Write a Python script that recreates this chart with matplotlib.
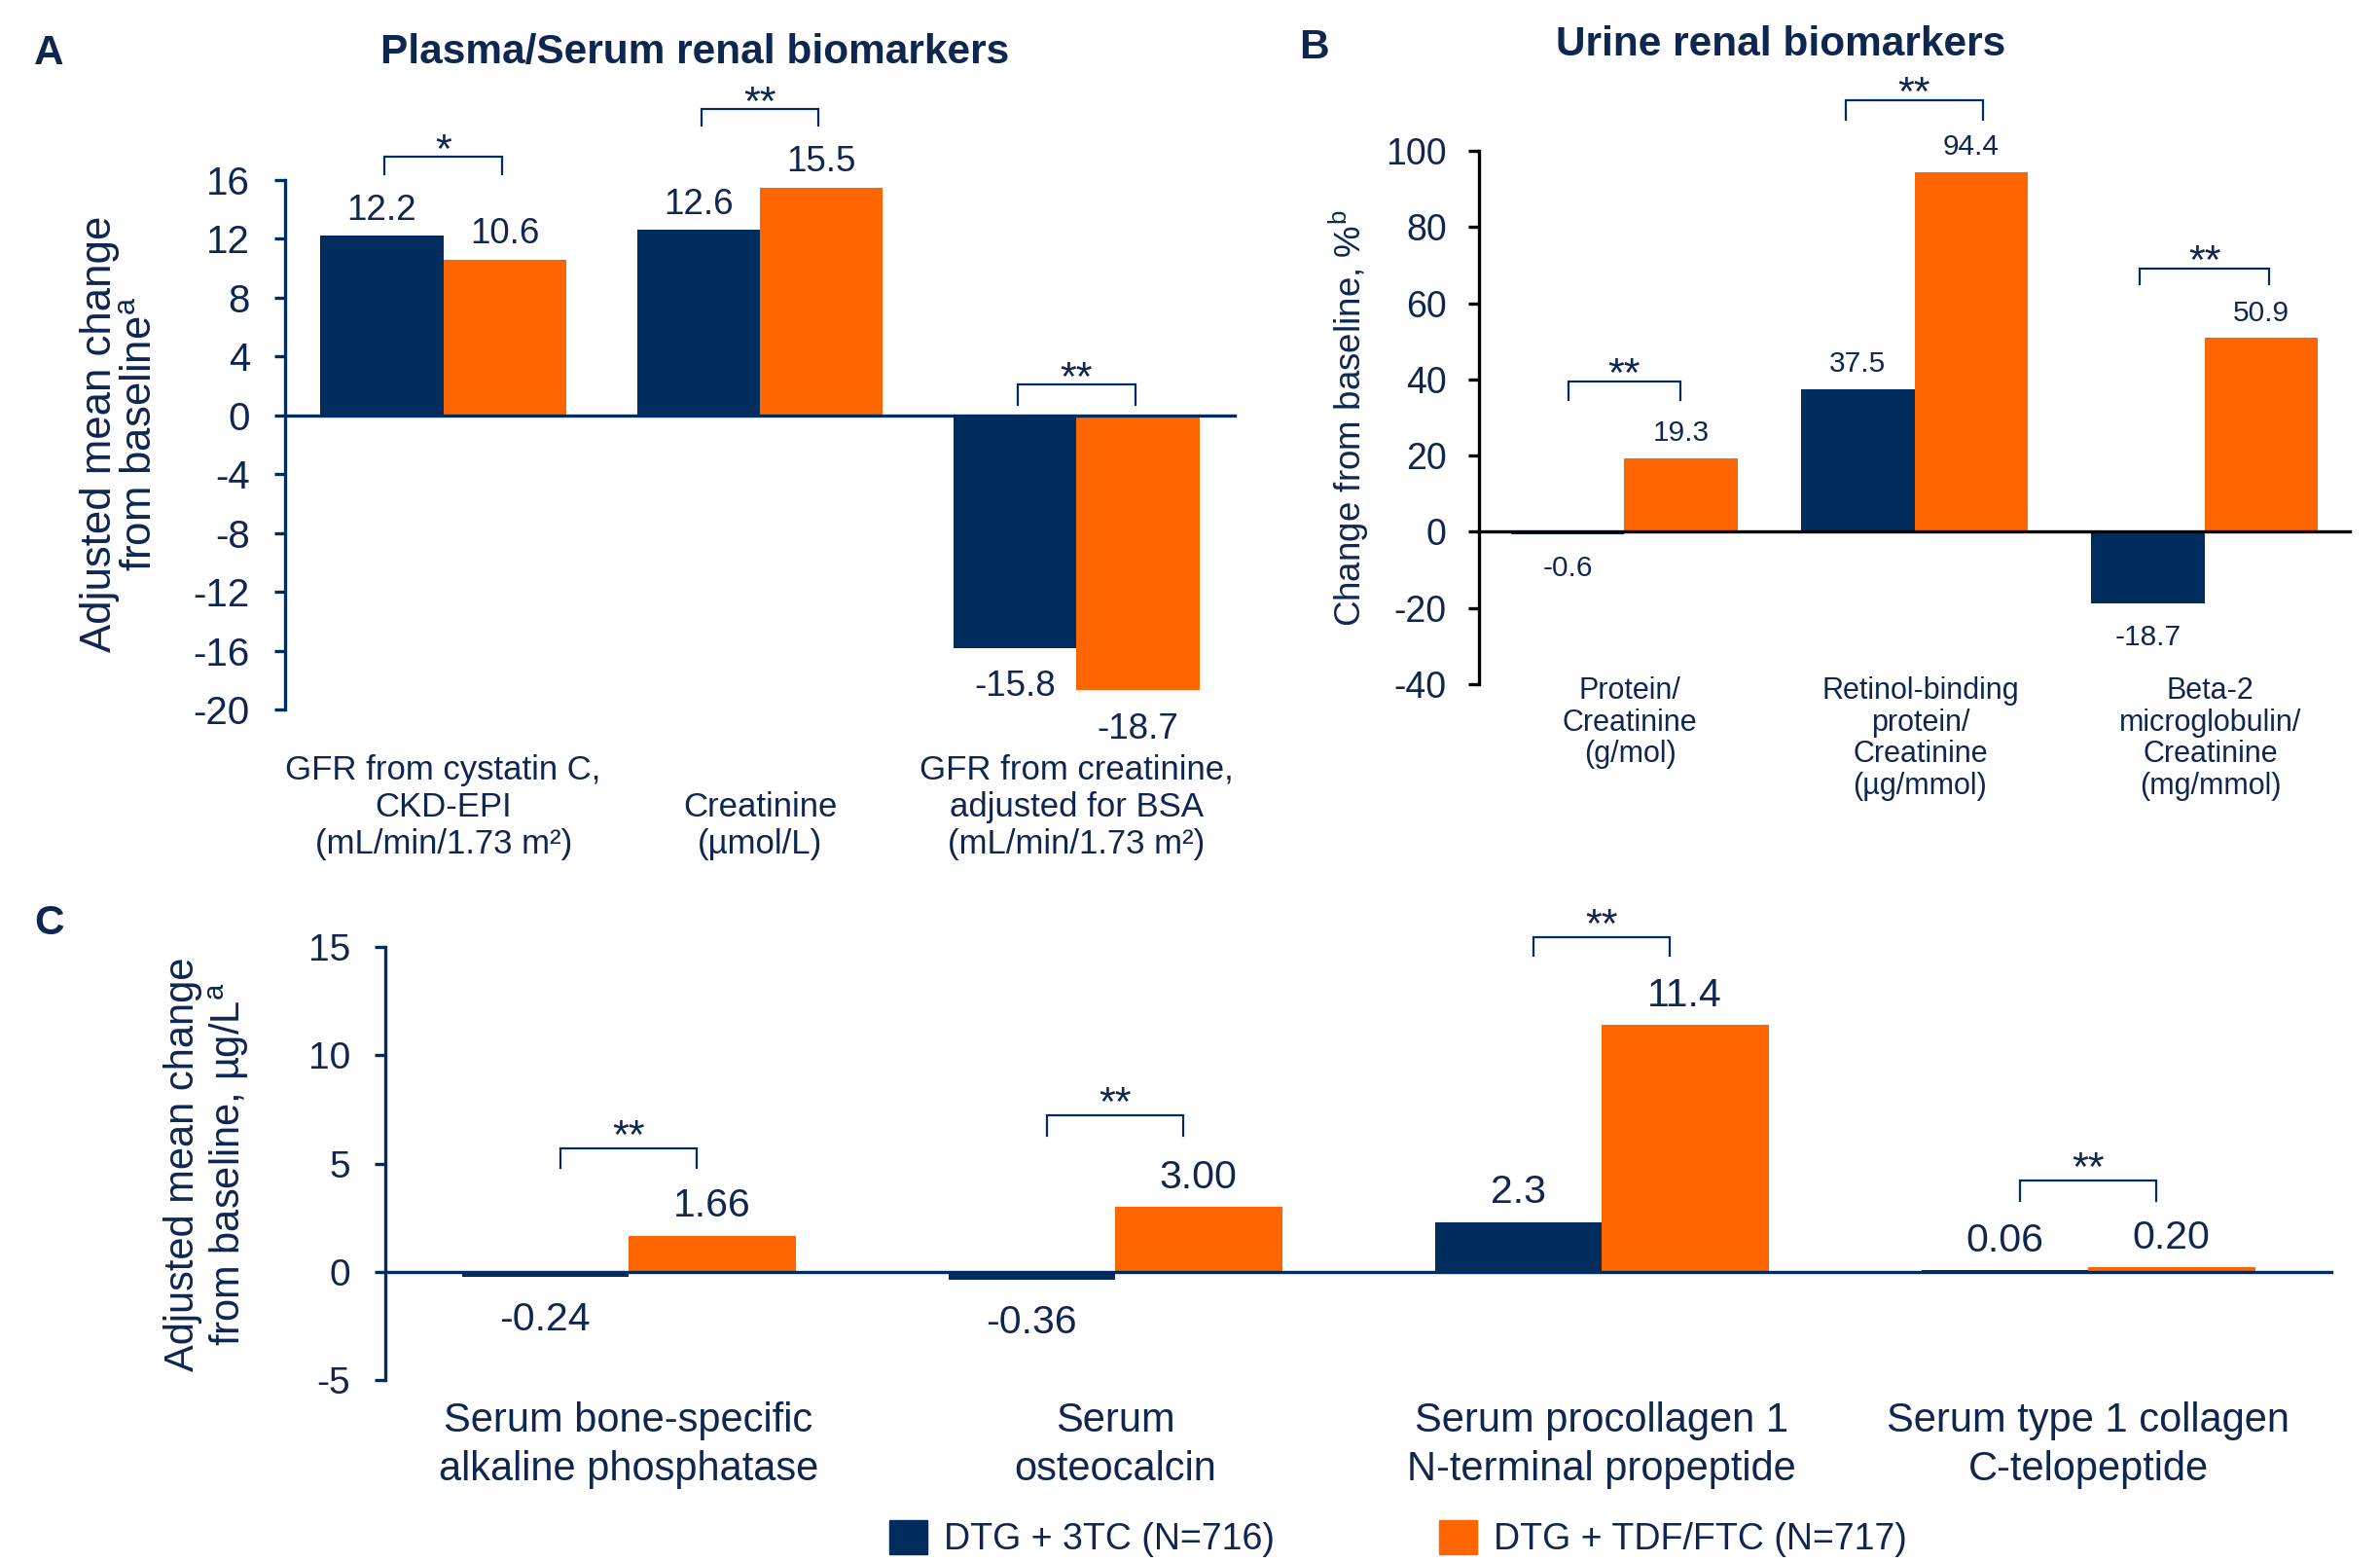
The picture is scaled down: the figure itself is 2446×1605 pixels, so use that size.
import numpy as np
import matplotlib
matplotlib.use("Agg")
import matplotlib.pyplot as plt
import matplotlib.transforms as mtransforms
from matplotlib.patches import Patch

plt.rcParams['font.family'] = ['Liberation Sans', 'DejaVu Sans']
plt.rcParams['mathtext.fontset'] = 'custom'
plt.rcParams['mathtext.rm'] = 'Liberation Sans'

# ── data ──────────────────────────────────────
series = ['DTG + 3TC (N=716)', 'DTG + TDF/FTC (N=717)']

a_cats = ['GFR from cystatin C,\nCKD-EPI\n(mL/min/1.73 m²)',
          'Creatinine\n(µmol/L)',
          'GFR from creatinine,\nadjusted for BSA\n(mL/min/1.73 m²)']
a_3tc = [12.2, 12.6, -15.8]
a_tdf = [10.6, 15.5, -18.7]
a_sig = ['*', '**', '**']
a_ticks = [-20, -16, -12, -8, -4, 0, 4, 8, 12, 16]

b_cats = ['Protein/\nCreatinine\n(g/mol)',
          'Retinol-binding\nprotein/\nCreatinine\n(µg/mmol)',
          'Beta-2\nmicroglobulin/\nCreatinine\n(mg/mmol)']
b_3tc = [-0.6, 37.5, -18.7]
b_tdf = [19.3, 94.4, 50.9]
b_sig = ['**', '**', '**']
b_ticks = [-40, -20, 0, 20, 40, 60, 80, 100]

c_cats = ['Serum bone-specific\nalkaline phosphatase',
          'Serum\nosteocalcin',
          'Serum procollagen 1\nN-terminal propeptide',
          'Serum type 1 collagen\nC-telopeptide']
c_3tc = [-0.24, -0.36, 2.3, 0.06]
c_tdf = [1.66, 3.00, 11.4, 0.20]
c_fmt = ['{:.2f}', '{:.2f}', '{:.1f}', '{:.2f}']
c_sig = ['**', '**', '**', '**']
c_ticks = [-5, 0, 5, 10, 15]

# ── layout / style ────────────────────────────
NAVY = '#002D5E'
ORANGE = '#FF6600'
TEXT = '#0F2650'
W, H = 2446, 1605

# bracket levels (leg bottom, bar top) in data units, half widths in x units
a_brk = [(16.4, 17.6), (19.7, 20.8), (0.7, 2.1)]
b_brk = [(34.6, 39.4), (108.3, 113.2), (64.9, 69.0)]
b_half = [0.193, 0.237, 0.223]
c_brk = [(4.8, 5.68), (6.3, 7.22), (14.6, 15.46), (3.28, 4.23)]


def fx(px):
    return px / W


def fy(py):
    return 1 - py / H


def panel(ax, v1, v2, width, ylim, ticks, axis_color, tick_fs, pad,
          val_fs, fmts, up, down):
    x = np.arange(len(v1))
    ax.bar(x - width / 2, v1, width, color=NAVY, zorder=2)
    ax.bar(x + width / 2, v2, width, color=ORANGE, zorder=2)
    ax.set_xlim(-0.5, len(v1) - 0.5)
    ax.set_ylim(*ylim)
    ax.set_yticks(ticks)
    ax.set_yticklabels([str(t) for t in ticks])
    for s in ('top', 'right'):
        ax.spines[s].set_visible(False)
    ax.spines['bottom'].set_position(('data', 0))
    for s in ('left', 'bottom'):
        ax.spines[s].set_color(axis_color)
        ax.spines[s].set_linewidth(2.4)
        ax.spines[s].set_zorder(3)
    ax.tick_params(axis='x', length=0, labelbottom=False)
    ax.tick_params(axis='y', direction='out', length=8, width=2.4,
                   color=axis_color, labelcolor=TEXT, labelsize=tick_fs, pad=pad)
    ax.patch.set_alpha(0)
    for xs, vals in ((x - width / 2, v1), (x + width / 2, v2)):
        for xi, v, f in zip(xs, vals, fmts):
            off = up if v >= 0 else -down
            ax.annotate(f.format(v), (xi, v), xytext=(0, off),
                        textcoords='offset points', ha='center',
                        va='center_baseline', fontsize=val_fs, color=TEXT)
    return x


def brackets(ax, x, levels, halves, sigs, fs, off):
    for xi, (lo, hi), hw, s in zip(x, levels, halves, sigs):
        ax.plot([xi - hw, xi - hw, xi + hw, xi + hw], [lo, hi, hi, lo],
                color=NAVY, lw=1.6, clip_on=False, solid_joinstyle='miter')
        ax.annotate(s, (xi, hi), xytext=(0, off), textcoords='offset points',
                    ha='center', va='baseline', fontsize=fs, color=TEXT,
                    annotation_clip=False)


def cat_labels(ax, fig, xs, labels, ypx, va, fs, ls):
    tr = mtransforms.blended_transform_factory(ax.transData, fig.transFigure)
    for xi, lab in zip(xs, labels):
        ax.text(xi, fy(ypx), lab, transform=tr, ha='center', va=va,
                fontsize=fs, linespacing=ls, color=TEXT,
                multialignment='center')


fig = plt.figure(figsize=(W / 100, H / 100), dpi=100)

# ── panel A ──
axA = fig.add_axes([fx(293), fy(729), fx(1269) - fx(293), (729 - 185) / H])
xa = panel(axA, a_3tc, a_tdf, 0.388, (-20, 16), a_ticks, NAVY, 29, 18,
           26.5, ['{:.1f}'] * 3, 21.5, 26)
brackets(axA, xa, a_brk, [0.185] * 3, a_sig, 31, -4.3)
cat_labels(axA, fig, xa, a_cats, 884, 'bottom', 25, 1.2)

# ── panel B ──
axB = fig.add_axes([fx(1520), fy(703), fx(2415) - fx(1520), (703 - 155) / H])
xb = panel(axB, b_3tc, b_tdf, 0.39, (-40, 100), b_ticks, 'black', 27, 16,
           21.5, ['{:.1f}'] * 3, 20.5, 23)
brackets(axB, xb, b_brk, b_half, b_sig, 31, -3.6)
cat_labels(axB, fig, xb + 0.02, b_cats, 695, 'top', 22, 1.11)

# ── panel C ──
axC = fig.add_axes([fx(396), fy(1418), fx(2396) - fx(396), (1418 - 973) / H])
xc = panel(axC, c_3tc, c_tdf, 0.343, (-5, 15), c_ticks, NAVY, 28, 18,
           29.5, c_fmt, 24.8, 28.8)
brackets(axC, xc, c_brk, [0.14] * 4, c_sig, 31, 0)
cat_labels(axC, fig, xc, c_cats, 1440, 'top', 30, 1.31)

# ── titles, axis labels ──
bold = dict(fontweight='bold', fontsize=30.5, color=TEXT, va='center')
fig.text(fx(35), fy(55), 'A', ha='left', **bold)
fig.text(fx(714), fy(54), 'Plasma/Serum renal biomarkers', ha='center', **bold)
fig.text(fx(1335), fy(49), 'B', ha='left', **bold)
fig.text(fx(1830), fy(46), 'Urine renal biomarkers', ha='center', **bold)
fig.text(fx(35), fy(949), 'C', ha='left', **bold)

fig.text(fx(123), fy(446), 'Adjusted mean change\nfrom baseline$^{\\mathregular{a}}$',
         rotation=90, ha='center', va='center', fontsize=31.5, linespacing=1.03,
         multialignment='center', color=TEXT)
fig.text(fx(1386), fy(430), 'Change from baseline, %$^{\\mathregular{b}}$',
         rotation=90, ha='center', va='center', fontsize=26.5, color=TEXT)
fig.text(fx(213), fy(1196), 'Adjusted mean change\nfrom baseline, µg/L$^{\\mathregular{a}}$',
         rotation=90, ha='center', va='center', fontsize=30, linespacing=1.12,
         multialignment='center', color=TEXT)

# ── legend ──
handles = [Patch(color=NAVY), Patch(color=ORANGE)]
fig.legend(handles, series, loc='center', bbox_to_anchor=(fx(1437), fy(1581)),
           ncol=2, frameon=False, fontsize=27, handlelength=1.05,
           handleheight=1.05, handletextpad=0.45, columnspacing=4.5,
           labelcolor=TEXT)

fig.savefig('out.png', dpi=100, facecolor='white')
